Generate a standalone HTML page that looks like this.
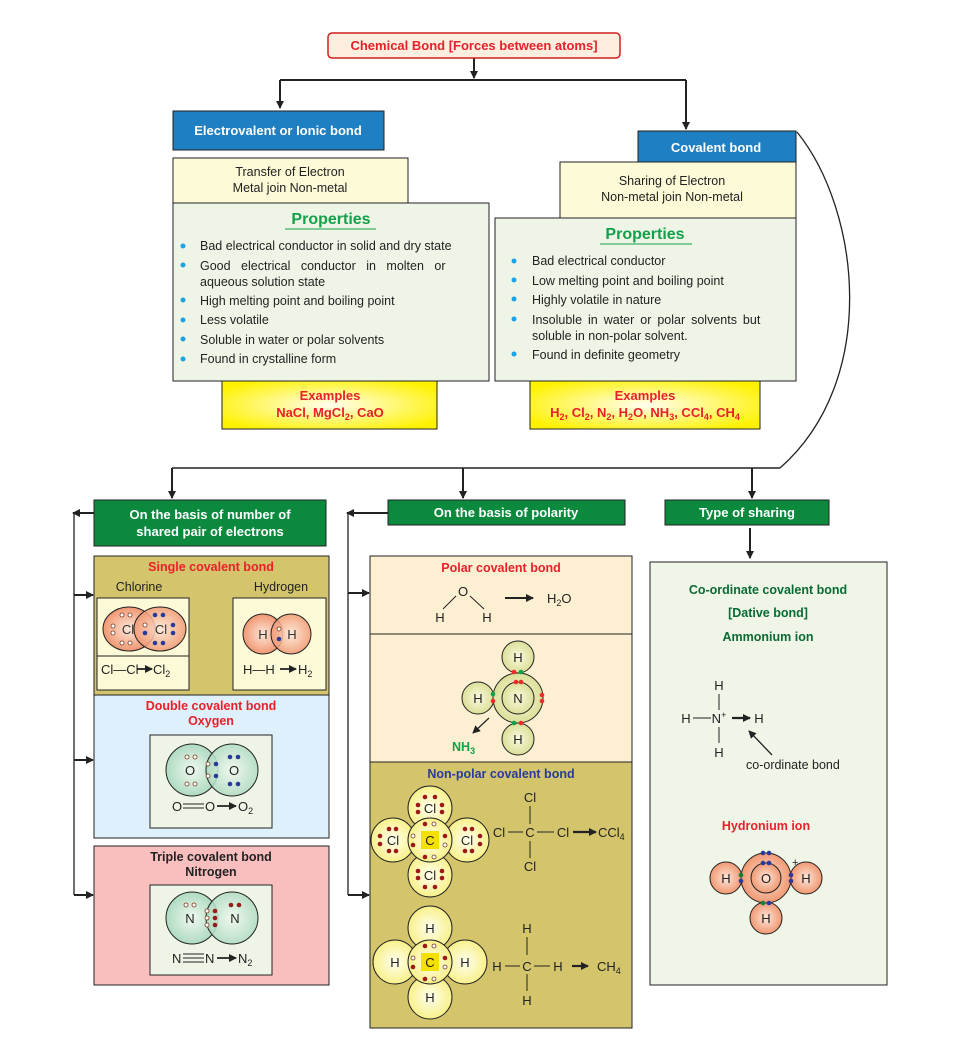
<!DOCTYPE html>
<html><head><meta charset="utf-8"><style>
html,body{margin:0;padding:0;background:#fff;}
svg{display:block;font-family:"Liberation Sans",Arial,sans-serif;}
</style></head><body>
<svg width="960" height="1057" viewBox="0 0 960 1057" xmlns="http://www.w3.org/2000/svg">
<defs>
<marker id="ah" markerWidth="8" markerHeight="8" refX="7" refY="4" orient="auto" markerUnits="userSpaceOnUse"><path d="M0,0 L8,4 L0,8 Z" fill="#222"/></marker>
<radialGradient id="yel" cx="50%" cy="50%" r="60%"><stop offset="0" stop-color="#fffef0"/><stop offset="1" stop-color="#fff200"/></radialGradient>
<radialGradient id="org" cx="50%" cy="50%" r="55%"><stop offset="0" stop-color="#fde6d8"/><stop offset="1" stop-color="#ef9068"/></radialGradient>
<radialGradient id="grn" cx="50%" cy="50%" r="55%"><stop offset="0" stop-color="#f0f8f0"/><stop offset="1" stop-color="#a8d8bc"/></radialGradient>
<radialGradient id="ly" cx="50%" cy="50%" r="55%"><stop offset="0" stop-color="#fffff0"/><stop offset="1" stop-color="#f7ef80"/></radialGradient>
<radialGradient id="ng" cx="50%" cy="50%" r="55%"><stop offset="0" stop-color="#fafae0"/><stop offset="1" stop-color="#d8dc90"/></radialGradient>
</defs>
<g stroke="#222" stroke-width="1.3" fill="none">
<line x1="474" y1="58" x2="474" y2="78" stroke-width="2" marker-end="url(#ah)"/>
<line x1="280" y1="80" x2="686" y2="80" stroke-width="2"/>
<line x1="280" y1="80" x2="280" y2="108" stroke-width="2" marker-end="url(#ah)"/>
<line x1="686" y1="80" x2="686" y2="129" stroke-width="2" marker-end="url(#ah)"/>
<path d="M797,132 C860,210 880,380 780,468"/>
<line x1="172" y1="468" x2="780" y2="468" stroke-width="1.5"/>
<line x1="172" y1="468" x2="172" y2="498" stroke-width="2" marker-end="url(#ah)"/>
<line x1="463" y1="468" x2="463" y2="498" stroke-width="2" marker-end="url(#ah)"/>
<line x1="752" y1="468" x2="752" y2="498" stroke-width="2" marker-end="url(#ah)"/>
<line x1="94" y1="513" x2="73" y2="513" stroke-width="2" marker-end="url(#ah)"/>
<line x1="74" y1="513" x2="74" y2="895"/>
<line x1="74" y1="595" x2="93" y2="595" stroke-width="2" marker-end="url(#ah)"/>
<line x1="74" y1="760" x2="93" y2="760" stroke-width="2" marker-end="url(#ah)"/>
<line x1="74" y1="895" x2="93" y2="895" stroke-width="2" marker-end="url(#ah)"/>
<line x1="388" y1="513" x2="347" y2="513" stroke-width="2" marker-end="url(#ah)"/>
<line x1="348" y1="513" x2="348" y2="895"/>
<line x1="348" y1="593" x2="369" y2="593" stroke-width="2" marker-end="url(#ah)"/>
<line x1="348" y1="895" x2="369" y2="895" stroke-width="2" marker-end="url(#ah)"/>
<line x1="750" y1="528" x2="750" y2="558" stroke-width="2" marker-end="url(#ah)"/>
</g>

<rect x="328" y="33" width="292" height="25" rx="4" fill="#fdeee0" stroke="#d02020" stroke-width="1.5"/>
<text x="474" y="50" text-anchor="middle" font-size="13" font-weight="bold" fill="#e8202a">Chemical Bond [Forces between atoms]</text>

<rect x="173" y="111" width="211" height="39" fill="#1e7fc3" stroke="#222"/>
<text x="278" y="135" text-anchor="middle" font-size="13" font-weight="bold" fill="#fff">Electrovalent or Ionic bond</text>
<rect x="173" y="158" width="235" height="45" fill="#fdfad8" stroke="#222"/>
<text x="290" y="176" text-anchor="middle" font-size="12.5" fill="#222">Transfer of Electron</text>
<text x="290" y="192" text-anchor="middle" font-size="12.5" fill="#222">Metal join Non-metal</text>
<rect x="173" y="203" width="316" height="178" fill="#eff5e6" stroke="#222"/>
<text x="331" y="224" text-anchor="middle" font-size="16" font-weight="bold" fill="#12a04a">Properties</text>
<line x1="285" y1="229" x2="376" y2="229" stroke="#12a04a" stroke-width="1"/>
<g font-size="12.5" fill="#222">
<text x="200" y="250">Bad electrical conductor in solid and dry state</text>
<text x="200" y="270" word-spacing="7">Good electrical conductor in molten or</text>
<text x="200" y="286">aqueous solution state</text>
<text x="200" y="305">High melting point and boiling point</text>
<text x="200" y="324">Less volatile</text>
<text x="200" y="344">Soluble in water or polar solvents</text>
<text x="200" y="363">Found in crystalline form</text>
</g>
<g fill="#1aa3e8"><circle cx="183" cy="246" r="2.5"/><circle cx="183" cy="265" r="2.5"/><circle cx="183" cy="300" r="2.5"/><circle cx="183" cy="320" r="2.5"/><circle cx="183" cy="339" r="2.5"/><circle cx="183" cy="359" r="2.5"/></g>
<rect x="222" y="381" width="215" height="48" fill="url(#yel)" stroke="#222"/>
<text x="330" y="400" text-anchor="middle" font-size="13" font-weight="bold" fill="#e8202a">Examples</text>
<text x="330" y="417" text-anchor="middle" font-size="13" font-weight="bold" fill="#e8202a">NaCl, MgCl<tspan font-size="9" dy="3">2</tspan><tspan dy="-3">, CaO</tspan></text>

<rect x="638" y="131" width="158" height="31" fill="#1e7fc3" stroke="#222"/>
<text x="716" y="152" text-anchor="middle" font-size="13" font-weight="bold" fill="#fff">Covalent bond</text>
<rect x="560" y="162" width="236" height="56" fill="#fdfad8" stroke="#222"/>
<text x="672" y="185" text-anchor="middle" font-size="12.5" fill="#222">Sharing of Electron</text>
<text x="672" y="201" text-anchor="middle" font-size="12.5" fill="#222">Non-metal join Non-metal</text>
<rect x="495" y="218" width="301" height="163" fill="#eff5e6" stroke="#222"/>
<text x="645" y="239" text-anchor="middle" font-size="16" font-weight="bold" fill="#12a04a">Properties</text>
<line x1="600" y1="244" x2="692" y2="244" stroke="#12a04a" stroke-width="1"/>
<g font-size="12.5" fill="#222">
<text x="532" y="265">Bad electrical conductor</text>
<text x="532" y="285">Low melting point and boiling point</text>
<text x="532" y="304">Highly volatile in nature</text>
<text x="532" y="324" word-spacing="2.5">Insoluble in water or polar solvents but</text>
<text x="532" y="340">soluble in non-polar solvent.</text>
<text x="532" y="359">Found in definite geometry</text>
</g>
<g fill="#1aa3e8"><circle cx="514" cy="261" r="2.5"/><circle cx="514" cy="280" r="2.5"/><circle cx="514" cy="299" r="2.5"/><circle cx="514" cy="319" r="2.5"/><circle cx="514" cy="354" r="2.5"/></g>
<rect x="530" y="381" width="230" height="48" fill="url(#yel)" stroke="#222"/>
<text x="645" y="400" text-anchor="middle" font-size="13" font-weight="bold" fill="#e8202a">Examples</text>
<text x="645" y="417" text-anchor="middle" font-size="13" font-weight="bold" fill="#e8202a">H<tspan font-size="9" dy="3">2</tspan><tspan dy="-3">, Cl</tspan><tspan font-size="9" dy="3">2</tspan><tspan dy="-3">, N</tspan><tspan font-size="9" dy="3">2</tspan><tspan dy="-3">, H</tspan><tspan font-size="9" dy="3">2</tspan><tspan dy="-3">O, NH</tspan><tspan font-size="9" dy="3">3</tspan><tspan dy="-3">, CCl</tspan><tspan font-size="9" dy="3">4</tspan><tspan dy="-3">, CH</tspan><tspan font-size="9" dy="3">4</tspan></text>

<rect x="94" y="500" width="232" height="46" fill="#0b8a3e" stroke="#222"/>
<text x="210" y="519" text-anchor="middle" font-size="13" font-weight="bold" fill="#fff">On the basis of number of</text>
<text x="210" y="536" text-anchor="middle" font-size="13" font-weight="bold" fill="#fff">shared pair of electrons</text>
<rect x="388" y="500" width="237" height="25" fill="#0b8a3e" stroke="#222"/>
<text x="506" y="517" text-anchor="middle" font-size="13" font-weight="bold" fill="#fff">On the basis of polarity</text>
<rect x="665" y="500" width="164" height="25" fill="#0b8a3e" stroke="#222"/>
<text x="747" y="517" text-anchor="middle" font-size="13" font-weight="bold" fill="#fff">Type of sharing</text>

<rect x="94" y="556" width="235" height="139" fill="#d4c56c" stroke="#222"/>
<text x="211" y="571" text-anchor="middle" font-size="12.5" font-weight="bold" fill="#e8202a">Single covalent bond</text>
<text x="139" y="591" text-anchor="middle" font-size="12.5" fill="#222">Chlorine</text>
<text x="281" y="591" text-anchor="middle" font-size="12.5" fill="#222">Hydrogen</text>
<rect x="97" y="598" width="92" height="92" fill="#fdfad8" stroke="#222"/>
<line x1="97" y1="656" x2="189" y2="656" stroke="#222"/>
<ellipse cx="129" cy="629" rx="26" ry="22" fill="url(#org)" stroke="#222"/>
<ellipse cx="160" cy="629" rx="26" ry="22" fill="url(#org)" stroke="#222" fill-opacity="0.85"/>
<text x="128" y="634" text-anchor="middle" font-size="13" fill="#333">Cl</text>
<text x="161" y="634" text-anchor="middle" font-size="13" fill="#333">Cl</text>
<g fill="#fff" stroke="#7a3a1a" stroke-width="0.8"><circle cx="122" cy="615" r="2"/><circle cx="130" cy="615" r="2"/><circle cx="122" cy="643" r="2"/><circle cx="130" cy="643" r="2"/><circle cx="113" cy="626" r="2"/><circle cx="113" cy="633" r="2"/><circle cx="145" cy="625" r="2"/></g>
<g fill="#283a9a"><circle cx="155" cy="615" r="2.3"/><circle cx="163" cy="615" r="2.3"/><circle cx="155" cy="643" r="2.3"/><circle cx="163" cy="643" r="2.3"/><circle cx="173" cy="625" r="2.3"/><circle cx="173" cy="633" r="2.3"/><circle cx="145" cy="633" r="2.3"/></g>
<text x="101" y="674" font-size="13" fill="#222">Cl—Cl</text>
<line x1="137" y1="669" x2="152" y2="669" stroke="#222" stroke-width="1.8" marker-end="url(#ah)"/>
<text x="153" y="674" font-size="13" fill="#222">Cl<tspan font-size="9" dy="3">2</tspan></text>
<rect x="233" y="598" width="93" height="92" fill="#fdfad8" stroke="#222"/>
<circle cx="263" cy="634" r="20" fill="url(#org)" stroke="#222"/>
<circle cx="291" cy="634" r="20" fill="url(#org)" stroke="#222" fill-opacity="0.85"/>
<text x="263" y="639" text-anchor="middle" font-size="13" fill="#333">H</text>
<text x="292" y="639" text-anchor="middle" font-size="13" fill="#333">H</text>
<circle cx="279" cy="629" r="2" fill="#fff" stroke="#7a3a1a" stroke-width="0.8"/><circle cx="279" cy="639" r="2.3" fill="#283a9a"/>
<text x="243" y="674" font-size="13" fill="#222">H—H</text>
<line x1="280" y1="669" x2="296" y2="669" stroke="#222" stroke-width="1.8" marker-end="url(#ah)"/>
<text x="298" y="674" font-size="13" fill="#222">H<tspan font-size="9" dy="3">2</tspan></text>

<rect x="94" y="695" width="235" height="143" fill="#def0fb" stroke="#222"/>
<text x="211" y="710" text-anchor="middle" font-size="12.5" font-weight="bold" fill="#e8202a">Double covalent bond</text>
<text x="211" y="725" text-anchor="middle" font-size="12.5" font-weight="bold" fill="#e8202a">Oxygen</text>
<rect x="150" y="735" width="122" height="93" fill="#eef5e6" stroke="#222"/>
<circle cx="192" cy="770" r="26" fill="url(#grn)" stroke="#222"/>
<circle cx="232" cy="770" r="26" fill="url(#grn)" stroke="#222" fill-opacity="0.85"/>
<text x="190" y="775" text-anchor="middle" font-size="13" fill="#222">O</text>
<text x="234" y="775" text-anchor="middle" font-size="13" fill="#222">O</text>
<g fill="#fff" stroke="#7a3a1a" stroke-width="0.8"><circle cx="187" cy="757" r="2"/><circle cx="195" cy="757" r="2"/><circle cx="187" cy="784" r="2"/><circle cx="195" cy="784" r="2"/><circle cx="208" cy="764" r="2"/><circle cx="208" cy="776" r="2"/></g>
<g fill="#283a9a"><circle cx="230" cy="757" r="2.3"/><circle cx="238" cy="757" r="2.3"/><circle cx="230" cy="784" r="2.3"/><circle cx="238" cy="784" r="2.3"/><circle cx="216" cy="764" r="2.3"/><circle cx="216" cy="776" r="2.3"/></g>
<text x="172" y="811" font-size="13" fill="#222">O</text>
<line x1="183" y1="804" x2="204" y2="804" stroke="#222"/><line x1="183" y1="808" x2="204" y2="808" stroke="#222"/>
<text x="205" y="811" font-size="13" fill="#222">O</text>
<line x1="217" y1="806" x2="236" y2="806" stroke="#222" stroke-width="1.8" marker-end="url(#ah)"/>
<text x="238" y="811" font-size="13" fill="#222">O<tspan font-size="9" dy="3">2</tspan></text>

<rect x="94" y="846" width="235" height="139" fill="#f9bfbf" stroke="#222"/>
<text x="211" y="861" text-anchor="middle" font-size="12.5" font-weight="bold" fill="#222">Triple covalent bond</text>
<text x="211" y="876" text-anchor="middle" font-size="12.5" font-weight="bold" fill="#222">Nitrogen</text>
<rect x="150" y="885" width="122" height="90" fill="#eef5e6" stroke="#222"/>
<circle cx="192" cy="918" r="26" fill="url(#grn)" stroke="#222"/>
<circle cx="232" cy="918" r="26" fill="url(#grn)" stroke="#222" fill-opacity="0.85"/>
<text x="190" y="923" text-anchor="middle" font-size="13" fill="#222">N</text>
<text x="235" y="923" text-anchor="middle" font-size="13" fill="#222">N</text>
<g fill="#fff" stroke="#7a3a1a" stroke-width="0.8"><circle cx="186" cy="905" r="2"/><circle cx="194" cy="905" r="2"/><circle cx="207" cy="911" r="2"/><circle cx="207" cy="918" r="2"/><circle cx="207" cy="925" r="2"/></g>
<g fill="#9a1a1a"><circle cx="231" cy="905" r="2.3"/><circle cx="239" cy="905" r="2.3"/><circle cx="215" cy="911" r="2.3"/><circle cx="215" cy="918" r="2.3"/><circle cx="215" cy="925" r="2.3"/></g>
<text x="172" y="963" font-size="13" fill="#222">N</text>
<line x1="183" y1="954" x2="204" y2="954" stroke="#222"/><line x1="183" y1="958" x2="204" y2="958" stroke="#222"/><line x1="183" y1="962" x2="204" y2="962" stroke="#222"/>
<text x="205" y="963" font-size="13" fill="#222">N</text>
<line x1="217" y1="958" x2="236" y2="958" stroke="#222" stroke-width="1.8" marker-end="url(#ah)"/>
<text x="238" y="963" font-size="13" fill="#222">N<tspan font-size="9" dy="3">2</tspan></text>

<rect x="370" y="556" width="262" height="78" fill="#fdf0d2" stroke="#222"/>
<text x="501" y="572" text-anchor="middle" font-size="12.5" font-weight="bold" fill="#e8202a">Polar covalent bond</text>
<text x="463" y="596" text-anchor="middle" font-size="13" fill="#222">O</text>
<line x1="456" y1="596" x2="443" y2="609" stroke="#222"/><line x1="470" y1="596" x2="484" y2="609" stroke="#222"/>
<text x="440" y="622" text-anchor="middle" font-size="13" fill="#222">H</text>
<text x="487" y="622" text-anchor="middle" font-size="13" fill="#222">H</text>
<line x1="505" y1="598" x2="533" y2="598" stroke="#222" stroke-width="2" marker-end="url(#ah)"/>
<text x="547" y="603" font-size="13" fill="#222">H<tspan font-size="9" dy="3">2</tspan><tspan dy="-3">O</tspan></text>
<rect x="370" y="634" width="262" height="128" fill="#fdf0d2" stroke="#222"/>
<circle cx="518" cy="657" r="16" fill="url(#ng)" stroke="#222"/>
<circle cx="518" cy="739" r="16" fill="url(#ng)" stroke="#222"/>
<circle cx="478" cy="698" r="16" fill="url(#ng)" stroke="#222"/>
<circle cx="518" cy="698" r="25" fill="url(#ng)" stroke="#222"/>
<circle cx="518" cy="698" r="16" fill="url(#ng)" stroke="#222"/>
<text x="518" y="662" text-anchor="middle" font-size="13" fill="#222">H</text>
<text x="518" y="744" text-anchor="middle" font-size="13" fill="#222">H</text>
<text x="478" y="703" text-anchor="middle" font-size="13" fill="#222">H</text>
<text x="518" y="703" text-anchor="middle" font-size="13" fill="#222">N</text>
<g fill="#ee2a2a"><circle cx="514" cy="672" r="2.3"/><circle cx="516" cy="682" r="2.3"/><circle cx="521" cy="682" r="2.3"/><circle cx="493" cy="701" r="2.3"/><circle cx="542" cy="695" r="2.3"/><circle cx="542" cy="701" r="2.3"/><circle cx="521" cy="723" r="2.3"/></g>
<g fill="#12a04a"><circle cx="521" cy="672" r="2.3"/><circle cx="493" cy="694" r="2.3"/><circle cx="514" cy="723" r="2.3"/></g>
<line x1="489" y1="718" x2="473" y2="733" stroke="#222" stroke-width="1.2" marker-end="url(#ah)"/>
<text x="452" y="751" font-size="12.5" font-weight="bold" fill="#12a04a">NH<tspan font-size="9" dy="3">3</tspan></text>

<rect x="370" y="762" width="262" height="266" fill="#d4c56c" stroke="#222"/>
<text x="501" y="778" text-anchor="middle" font-size="12.5" font-weight="bold" fill="#2a3a9a">Non-polar covalent bond</text>
<g stroke="#222" fill="url(#ly)">
<circle cx="430" cy="808" r="22"/><circle cx="430" cy="875" r="22"/><circle cx="393" cy="840" r="22"/><circle cx="467" cy="840" r="22"/><circle cx="430" cy="840" r="22"/>
<circle cx="430" cy="928" r="22"/><circle cx="430" cy="997" r="22"/><circle cx="395" cy="962" r="22"/><circle cx="465" cy="962" r="22"/><circle cx="430" cy="962" r="22"/>
</g>
<rect x="421" y="831" width="18" height="18" fill="#f5e000"/>
<rect x="421" y="953" width="18" height="18" fill="#f5e000"/>
<g font-size="13" fill="#222" text-anchor="middle">
<text x="430" y="813">Cl</text><text x="430" y="880">Cl</text><text x="393" y="845">Cl</text><text x="467" y="845">Cl</text><text x="430" y="845">C</text>
<text x="430" y="933">H</text><text x="430" y="1002">H</text><text x="395" y="967">H</text><text x="465" y="967">H</text><text x="430" y="967">C</text>
</g>
<g fill="#9a1a1a">
<circle cx="425" cy="797" r="2.3"/><circle cx="435" cy="797" r="2.3"/><circle cx="418" cy="805" r="2.3"/><circle cx="418" cy="812" r="2.3"/><circle cx="442" cy="805" r="2.3"/><circle cx="442" cy="812" r="2.3"/>
<circle cx="425" cy="887" r="2.3"/><circle cx="435" cy="887" r="2.3"/><circle cx="418" cy="871" r="2.3"/><circle cx="418" cy="878" r="2.3"/><circle cx="442" cy="871" r="2.3"/><circle cx="442" cy="878" r="2.3"/>
<circle cx="389" cy="829" r="2.3"/><circle cx="396" cy="829" r="2.3"/><circle cx="389" cy="851" r="2.3"/><circle cx="396" cy="851" r="2.3"/><circle cx="380" cy="836" r="2.3"/><circle cx="380" cy="844" r="2.3"/>
<circle cx="465" cy="829" r="2.3"/><circle cx="472" cy="829" r="2.3"/><circle cx="465" cy="851" r="2.3"/><circle cx="472" cy="851" r="2.3"/><circle cx="480" cy="836" r="2.3"/><circle cx="480" cy="844" r="2.3"/>
<circle cx="425" cy="824" r="2.3"/><circle cx="425" cy="857" r="2.3"/><circle cx="413" cy="845" r="2.3"/><circle cx="445" cy="836" r="2.3"/>
<circle cx="425" cy="946" r="2.3"/><circle cx="425" cy="979" r="2.3"/><circle cx="413" cy="967" r="2.3"/><circle cx="445" cy="958" r="2.3"/>
</g>
<g fill="#fff" stroke="#7a3a1a" stroke-width="0.8">
<circle cx="434" cy="824" r="2"/><circle cx="434" cy="857" r="2"/><circle cx="413" cy="836" r="2"/><circle cx="445" cy="845" r="2"/>
<circle cx="434" cy="946" r="2"/><circle cx="434" cy="979" r="2"/><circle cx="413" cy="958" r="2"/><circle cx="445" cy="967" r="2"/>
</g>
<g font-size="13" fill="#222" text-anchor="middle">
<text x="530" y="802">Cl</text><text x="499" y="837">Cl</text><text x="530" y="837">C</text><text x="563" y="837">Cl</text><text x="530" y="871">Cl</text>
<text x="527" y="933">H</text><text x="497" y="971">H</text><text x="527" y="971">C</text><text x="558" y="971">H</text><text x="527" y="1005">H</text>
</g>
<g stroke="#222"><line x1="530" y1="806" x2="530" y2="824"/><line x1="530" y1="841" x2="530" y2="858"/><line x1="508" y1="832" x2="523" y2="832"/><line x1="537" y1="832" x2="554" y2="832"/>
<line x1="527" y1="937" x2="527" y2="955"/><line x1="527" y1="974" x2="527" y2="991"/><line x1="505" y1="966" x2="520" y2="966"/><line x1="534" y1="966" x2="550" y2="966"/></g>
<line x1="573" y1="832" x2="596" y2="832" stroke="#222" stroke-width="2.2" marker-end="url(#ah)"/>
<text x="598" y="837" font-size="13" fill="#222">CCl<tspan font-size="9" dy="3">4</tspan></text>
<line x1="572" y1="966" x2="588" y2="966" stroke="#222" stroke-width="2.2" marker-end="url(#ah)"/>
<text x="597" y="971" font-size="13" fill="#222">CH<tspan font-size="9" dy="3">4</tspan></text>

<rect x="650" y="562" width="237" height="423" fill="#eff6e8" stroke="#222"/>
<g font-size="12.5" font-weight="bold" fill="#0b6a33" text-anchor="middle">
<text x="768" y="594">Co-ordinate covalent bond</text>
<text x="768" y="617">[Dative bond]</text>
<text x="768" y="641">Ammonium ion</text>
</g>
<g font-size="13" fill="#222" text-anchor="middle">
<text x="719" y="690">H</text><text x="686" y="723">H</text><text x="719" y="723">N<tspan font-size="9" dy="-5">+</tspan></text><text x="759" y="723">H</text><text x="719" y="757">H</text>
</g>
<g stroke="#222"><line x1="719" y1="694" x2="719" y2="710"/><line x1="719" y1="727" x2="719" y2="743"/><line x1="693" y1="718" x2="711" y2="718"/></g>
<line x1="732" y1="718" x2="750" y2="718" stroke="#222" stroke-width="2.2" marker-end="url(#ah)"/>
<line x1="772" y1="755" x2="749" y2="731" stroke="#222" stroke-width="1.3" marker-end="url(#ah)"/>
<text x="746" y="769" font-size="12.5" fill="#222">co-ordinate bond</text>
<text x="766" y="830" text-anchor="middle" font-size="12.5" font-weight="bold" fill="#e8202a">Hydronium ion</text>
<g stroke="#222" fill="url(#org)">
<circle cx="726" cy="878" r="16"/><circle cx="806" cy="878" r="16"/><circle cx="766" cy="918" r="16"/>
<circle cx="766" cy="878" r="25"/><circle cx="766" cy="878" r="15"/>
</g>
<g font-size="13" fill="#222" text-anchor="middle"><text x="726" y="883">H</text><text x="806" y="883">H</text><text x="766" y="923">H</text><text x="766" y="883">O</text></g>
<text x="792" y="866" font-size="11" fill="#222">+</text>
<g fill="#283a9a"><circle cx="763" cy="853" r="2.3"/><circle cx="769" cy="853" r="2.3"/><circle cx="763" cy="863" r="2.3"/><circle cx="769" cy="863" r="2.3"/><circle cx="741" cy="881" r="2.3"/><circle cx="791" cy="875" r="2.3"/><circle cx="791" cy="881" r="2.3"/><circle cx="769" cy="903" r="2.3"/></g>
<g fill="#12803a"><circle cx="741" cy="875" r="2.3"/><circle cx="763" cy="903" r="2.3"/></g>
</svg>
</body></html>
